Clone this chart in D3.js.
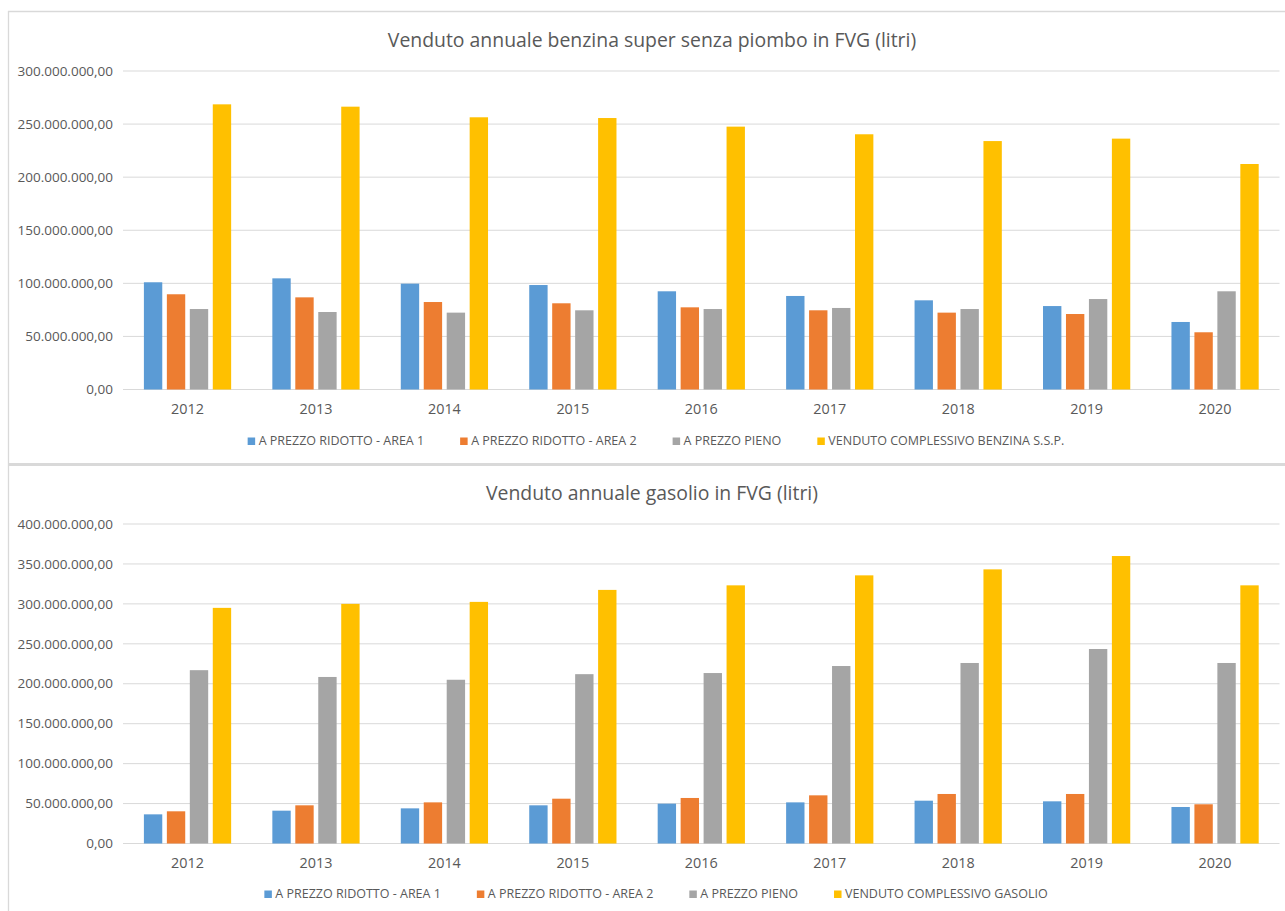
<!DOCTYPE html>
<html>
<head>
<meta charset="utf-8">
<script src="https://cdn.jsdelivr.net/npm/d3@7"></script>
<style>
  body { margin: 0; background: #fff; }
  svg text { font-family: "Open Sans", sans-serif; fill: #595959; }
</style>
</head>
<body>
<svg id="chart" width="1285" height="911"></svg>
<script>
// years on the x axis
const years = ["2012", "2013", "2014", "2015", "2016", "2017", "2018", "2019", "2020"];

// benzina (litri)
const benzinaArea1 = [101.0e6, 104.7e6, 99.7e6, 98.4e6, 92.5e6, 88.1e6, 84.0e6, 78.6e6, 63.6e6];
const benzinaArea2 = [89.7e6, 86.8e6, 82.4e6, 81.2e6, 77.4e6, 74.6e6, 72.4e6, 71.1e6, 53.9e6];
const benzinaPieno = [75.8e6, 73.0e6, 72.4e6, 74.6e6, 75.8e6, 76.8e6, 75.8e6, 85.2e6, 92.5e6];
const benzinaTotale = [268.6e6, 266.4e6, 256.4e6, 255.7e6, 247.6e6, 240.4e6, 234.0e6, 236.3e6, 212.4e6];
const benzinaTicks = [0, 50e6, 100e6, 150e6, 200e6, 250e6, 300e6];

// gasolio (litri)
const gasolioArea1 = [36.5e6, 41.1e6, 44.0e6, 47.8e6, 49.9e6, 51.5e6, 53.6e6, 52.8e6, 45.7e6];
const gasolioArea2 = [40.3e6, 47.8e6, 51.5e6, 56.1e6, 57.0e6, 60.3e6, 62.0e6, 62.0e6, 49.1e6];
const gasolioPieno = [217.0e6, 208.5e6, 205.0e6, 212.0e6, 213.4e6, 222.2e6, 226.0e6, 243.5e6, 226.0e6];
const gasolioTotale = [295.0e6, 300.0e6, 302.5e6, 317.5e6, 323.2e6, 335.7e6, 343.2e6, 359.9e6, 323.2e6];
const gasolioTicks = [0, 50e6, 100e6, 150e6, 200e6, 250e6, 300e6, 350e6, 400e6];

const seriesNames = ["A PREZZO RIDOTTO - AREA 1", "A PREZZO RIDOTTO - AREA 2", "A PREZZO PIENO"];
const colors = ["#5B9BD5", "#ED7D31", "#A5A5A5", "#FFC000"];

const it = d3.formatLocale({ decimal: ",", thousands: ".", grouping: [3], currency: ["€", ""] });
const fmt = it.format(",.2f");

const svg = d3.select("#chart");

// frame lines (Excel chart borders)
svg.append("line").attr("x1", 8).attr("x2", 1285).attr("y1", 11.5).attr("y2", 11.5)
  .attr("stroke", "#d9d9d9").attr("stroke-width", 1.3);
svg.append("line").attr("x1", 8.5).attr("x2", 8.5).attr("y1", 11).attr("y2", 911)
  .attr("stroke", "#d9d9d9").attr("stroke-width", 1.3);
svg.append("line").attr("x1", 8).attr("x2", 1285).attr("y1", 464.5).attr("y2", 464.5)
  .attr("stroke", "#d9d9d9").attr("stroke-width", 3);

function drawChart(cfg) {
  let g = svg.append("g");

  let x0 = d3.scaleBand().domain(years).range([123.3, 1279.3]);
  let x1 = d3.scaleBand().domain(d3.range(4))
    .range([20.6, x0.bandwidth() - 20.6]).paddingInner(0.2);
  let y = d3.scaleLinear().domain([0, d3.max(cfg.ticks)]).range([cfg.bottom, cfg.top]);

  // gridlines
  g.selectAll(".grid")
    .data(cfg.ticks)
    .enter()
    .append("line")
    .attr("x1", 123)
    .attr("x2", 1279.5)
    .attr("y1", d => y(d))
    .attr("y2", d => y(d))
    .attr("stroke", "#d9d9d9")
    .attr("stroke-width", 1);

  // y labels
  g.selectAll(".ylab")
    .data(cfg.ticks)
    .enter()
    .append("text")
    .attr("x", 113)
    .attr("y", d => y(d))
    .attr("dy", "0.35em")
    .attr("text-anchor", "end")
    .style("font-size", "13.5px")
    .text(d => fmt(d));

  // bars
  let rows = years.map((yr, i) => ({ year: yr, values: cfg.series.map(s => s[i]) }));
  let groups = g.selectAll(".year")
    .data(rows)
    .enter()
    .append("g")
    .attr("transform", d => "translate(" + x0(d.year) + ",0)");

  groups.selectAll("rect")
    .data(d => d.values.map((v, k) => ({ k: k, v: v })))
    .enter()
    .append("rect")
    .attr("x", d => x1(d.k))
    .attr("width", x1.bandwidth())
    .attr("y", d => y(d.v))
    .attr("height", d => y(0) - y(d.v))
    .attr("fill", d => colors[d.k]);

  // x labels
  g.selectAll(".xlab")
    .data(years)
    .enter()
    .append("text")
    .attr("x", d => x0(d) + x0.bandwidth() / 2)
    .attr("y", cfg.bottom + 19.5)
    .attr("dy", "0.35em")
    .attr("text-anchor", "middle")
    .style("font-size", "14.4px")
    .text(d => d);

  // title
  g.append("text")
    .attr("x", 652)
    .attr("y", cfg.titleY)
    .attr("dy", "0.35em")
    .attr("text-anchor", "middle")
    .style("font-size", "19.4px")
    .text(cfg.title);

  // legend
  let leg = g.append("g");
  let xpos = 0;
  cfg.legend.forEach((name, k) => {
    let item = leg.append("g").attr("transform", "translate(" + xpos + ",0)");
    item.append("rect").attr("x", 0).attr("y", -3.5).attr("width", 7.5).attr("height", 7.5)
      .attr("fill", colors[k]);
    let t = item.append("text").attr("x", 11).attr("y", 0).attr("dy", "0.35em")
      .style("font-size", "12.5px").text(name);
    xpos += 11 + t.node().getComputedTextLength() + 36;
  });
  let legW = xpos - 36;
  leg.attr("transform", "translate(" + (cfg.legendCx - legW / 2) + "," + cfg.legendY + ")");
}

drawChart({
  title: "Venduto annuale benzina super senza piombo in FVG (litri)",
  titleY: 40,
  top: 71,
  bottom: 389.5,
  ticks: benzinaTicks,
  series: [benzinaArea1, benzinaArea2, benzinaPieno, benzinaTotale],
  legend: seriesNames.concat(["VENDUTO COMPLESSIVO BENZINA S.S.P."]),
  legendY: 441,
  legendCx: 656
});

drawChart({
  title: "Venduto annuale gasolio in FVG (litri)",
  titleY: 493,
  top: 524,
  bottom: 843.5,
  ticks: gasolioTicks,
  series: [gasolioArea1, gasolioArea2, gasolioPieno, gasolioTotale],
  legend: seriesNames.concat(["VENDUTO COMPLESSIVO GASOLIO"]),
  legendY: 894,
  legendCx: 656
});
</script>
</body>
</html>
